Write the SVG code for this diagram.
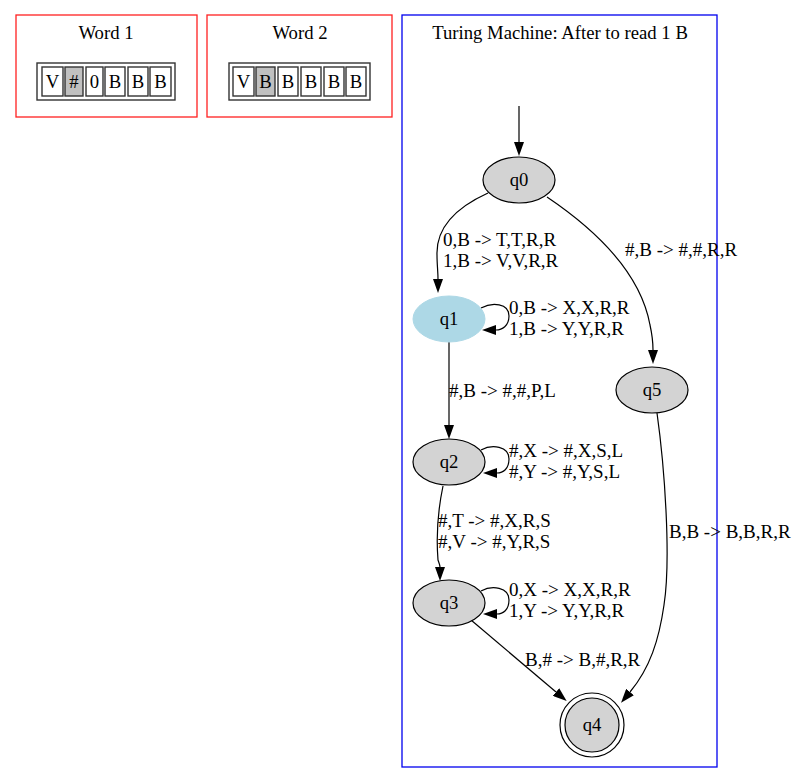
<svg xmlns="http://www.w3.org/2000/svg" width="796" height="784" viewBox="0 0 796 784">
<style>
text{font-family:"Liberation Serif","Times New Roman",serif;font-size:18.7px;fill:#000}
.c{text-anchor:middle}
.lb{font-size:19px}
.cl-r{fill:none;stroke:#ff2020;stroke-width:1.3}
.cl-b{fill:none;stroke:#0000ee;stroke-width:1.3}
.tape{fill:#fff;stroke:#333;stroke-width:1.4}
.cell{fill:#fff;stroke:#333;stroke-width:1.4}
.cur{fill:#c0c0c0;stroke:#333;stroke-width:1.4}
.st{fill:#d3d3d3;stroke:#000;stroke-width:1.2}
.e{fill:none;stroke:#000;stroke-width:1.2;marker-end:url(#ah)}
</style>
<defs>
<marker id="ah" viewBox="0 0 14 10" refX="0" refY="5" markerWidth="14" markerHeight="10" markerUnits="userSpaceOnUse" orient="auto">
<path d="M0,0 L14,5 L0,10 z" fill="#000"/>
</marker>
</defs>
<rect width="796" height="784" fill="#fff"/>

<g id="word1">
<rect class="cl-r" x="16" y="15" width="181" height="102"/>
<text class="c" x="106" y="39">Word 1</text>
<rect class="tape" x="37" y="63" width="138" height="37"/>
<rect class="cell" x="42" y="67" width="21" height="29"/><text class="c" x="52.5" y="88">V</text>
<rect class="cur" x="65" y="67" width="18" height="29"/><text class="c" x="74" y="88">#</text>
<rect class="cell" x="86" y="67" width="17" height="29"/><text class="c" x="94.5" y="88">0</text>
<rect class="cell" x="105" y="67" width="20" height="29"/><text class="c" x="115" y="88">B</text>
<rect class="cell" x="128" y="67" width="20" height="29"/><text class="c" x="138" y="88">B</text>
<rect class="cell" x="150" y="67" width="21" height="29"/><text class="c" x="160.5" y="88">B</text>
</g>

<g id="word2">
<rect class="cl-r" x="207" y="15" width="185" height="102"/>
<text class="c" x="300" y="39">Word 2</text>
<rect class="tape" x="229" y="63" width="141" height="37"/>
<rect class="cell" x="233" y="67" width="21" height="29"/><text class="c" x="243.5" y="88">V</text>
<rect class="cur" x="256" y="67" width="19" height="29"/><text class="c" x="265.5" y="88">B</text>
<rect class="cell" x="278" y="67" width="20" height="29"/><text class="c" x="288" y="88">B</text>
<rect class="cell" x="301" y="67" width="20" height="29"/><text class="c" x="311" y="88">B</text>
<rect class="cell" x="324" y="67" width="20" height="29"/><text class="c" x="334" y="88">B</text>
<rect class="cell" x="346" y="67" width="20" height="29"/><text class="c" x="356" y="88">B</text>
</g>

<g id="tm">
<rect class="cl-b" x="402" y="15" width="315" height="752"/>
<text class="c" x="560" y="39">Turing Machine: After to read 1 B</text>
</g>

<g id="edges">
<path class="e" d="M519,106 L519,142"/>
<path class="e" d="M488,193 C455,208 436,228 437,255 C437,264 438,272 438,279"/>
<path class="e" d="M547,197 C590,226 640,270 650,325 C652,334 653,342 653,350"/>
<path class="e" d="M481,308 C492,302 509,303 509,316 C509,326 502,330 496,330"/>
<path class="e" d="M449,342 L449,425"/>
<path class="e" d="M481,450 C492,444 509,446 509,459 C509,469 503,473 497,473"/>
<path class="e" d="M443,486 C438,510 436,535 438,560 C439,563 440,565 440,567"/>
<path class="e" d="M481,591 C492,585 509,587 509,600 C509,610 503,614 497,614"/>
<path class="e" d="M471,620 L556,692"/>
<path class="e" d="M657,413 C665,470 671,560 664,605 C659,640 650,668 630,692"/>
<text class="lb" x="443" y="246">0,B -&gt; T,T,R,R</text>
<text class="lb" x="443" y="267">1,B -&gt; V,V,R,R</text>
<text class="lb" x="625" y="256">#,B -&gt; #,#,R,R</text>
<text class="lb" x="509" y="314">0,B -&gt; X,X,R,R</text>
<text class="lb" x="509" y="335">1,B -&gt; Y,Y,R,R</text>
<text class="lb" x="449" y="397">#,B -&gt; #,#,P,L</text>
<text class="lb" x="509" y="457">#,X -&gt; #,X,S,L</text>
<text class="lb" x="509" y="478">#,Y -&gt; #,Y,S,L</text>
<text class="lb" x="438" y="527">#,T -&gt; #,X,R,S</text>
<text class="lb" x="438" y="548">#,V -&gt; #,Y,R,S</text>
<text class="lb" x="509" y="596">0,X -&gt; X,X,R,R</text>
<text class="lb" x="509" y="617">1,Y -&gt; Y,Y,R,R</text>
<text class="lb" x="525" y="666">B,# -&gt; B,#,R,R</text>
<text class="lb" x="669" y="538">B,B -&gt; B,B,R,R</text>
</g>

<g id="q0"><ellipse class="st" cx="519" cy="180" rx="36" ry="23"/><text class="c" x="519" y="186">q0</text></g>
<g id="q1"><ellipse cx="449" cy="319" rx="36" ry="23" fill="#add8e6" stroke="#add8e6"/><text class="c" x="449" y="325">q1</text></g>
<g id="q2"><ellipse class="st" cx="449" cy="462" rx="36" ry="23"/><text class="c" x="449" y="468">q2</text></g>
<g id="q3"><ellipse class="st" cx="449" cy="603" rx="36" ry="23"/><text class="c" x="449" y="609">q3</text></g>
<g id="q4"><circle cx="592" cy="725" r="32" fill="none" stroke="#000" stroke-width="1.2"/><circle class="st" cx="592" cy="725" r="27"/><text class="c" x="592" y="731">q4</text></g>
<g id="q5"><ellipse class="st" cx="652" cy="390" rx="36" ry="23"/><text class="c" x="652" y="396">q5</text></g>
</svg>
